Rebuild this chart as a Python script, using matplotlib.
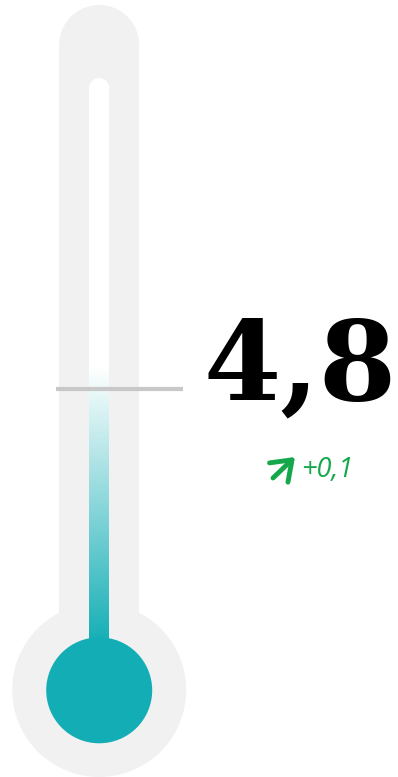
import numpy as np
import matplotlib
matplotlib.use("Agg")
import matplotlib.pyplot as plt
from matplotlib.patches import Circle, Rectangle
from matplotlib.colors import LinearSegmentedColormap

value = 4.8
delta = 0.1
scale_min = 0.0
scale_max = 9.6

W, H = 398, 777
fig = plt.figure(figsize=(W / 100, H / 100), dpi=100)
ax = fig.add_axes([0, 0, 1, 1])
ax.set_xlim(0, W)
ax.set_ylim(H, 0)
ax.axis("off")

gray = "#f1f1f1"
teal = "#13aeb5"
cx = 99.2

# outer tube + bulb
ax.add_patch(Circle((cx, 45), 40, fc=gray, ec="none"))
ax.add_patch(Rectangle((cx - 40, 45), 80, 645, fc=gray, ec="none"))
ax.add_patch(Circle((cx, 690), 87, fc=gray, ec="none"))

# inner channel
ax.add_patch(Circle((cx, 88), 10, fc="white", ec="none"))
ax.add_patch(Rectangle((cx - 10, 88), 20, 580, fc="white", ec="none"))

# level from value
y_bottom, y_top = 690, 88
level = y_bottom - (value - scale_min) / (scale_max - scale_min) * (y_bottom - y_top)

cmap = LinearSegmentedColormap.from_list("fill", ["#ffffff", teal])
grad = np.linspace(0, 1, 256).reshape(-1, 1)
g0, g1 = level - 22, 645
im = ax.imshow(grad, cmap=cmap, extent=(cx - 10, cx + 10, g1, g0), aspect="auto",
               interpolation="bilinear", zorder=3)

ax.add_patch(Circle((cx, 690.3), 53, fc=teal, ec="none", zorder=4))

# level marker
ax.plot([56, 183], [level, level], color="#c8c8c8", lw=3, solid_capstyle="butt", zorder=5)

# value text
ax.text(397, 399, f"{value:.1f}".replace(".", ","), ha="right", va="baseline",
        fontsize=80, fontweight="bold", family="DejaVu Serif", color="black", zorder=6)

green = "#14a84a"
ax.annotate("", xy=(295, 457), xytext=(273, 478),
            arrowprops=dict(arrowstyle="->,head_length=0.55,head_width=0.4",
                            color=green, lw=3.5, mutation_scale=24,
                            shrinkA=0, shrinkB=0))
ax.text(301, 477, f"+{delta:.1f}".replace(".", ","), ha="left", va="baseline",
        fontsize=19.5, style="italic", family="Open Sans", color=green)

fig.savefig("out.png", dpi=100)
